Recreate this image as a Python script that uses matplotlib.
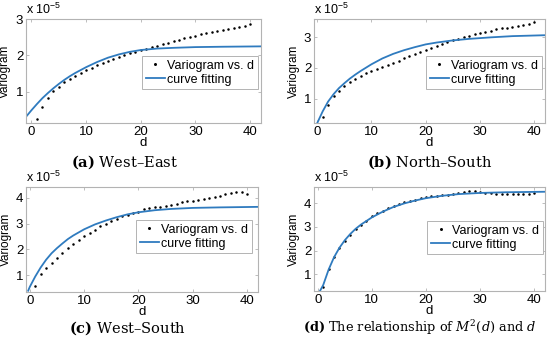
import matplotlib
matplotlib.use("Agg")
import matplotlib.pyplot as plt

plt.rcParams["font.family"] = ["Liberation Sans", "DejaVu Sans"]
plt.rcParams["mathtext.fontset"] = "custom"
plt.rcParams["mathtext.rm"] = "DejaVu Serif"
plt.rcParams["mathtext.it"] = "DejaVu Serif:italic"
plt.rcParams["mathtext.bf"] = "DejaVu Serif:bold"
plt.rcParams["mathtext.sf"] = "Liberation Sans"

# lag d (all panels) -- variogram values in units of 1e-5
d = list(range(1, 41))

gam_a = [0.26, 0.60, 0.84, 1.02, 1.15, 1.26, 1.35, 1.44, 1.53, 1.60,
         1.67, 1.74, 1.80, 1.86, 1.91, 1.96, 2.01, 2.06, 2.10, 2.15,
         2.19, 2.23, 2.27, 2.31, 2.35, 2.39, 2.43, 2.47, 2.51, 2.54,
         2.58, 2.61, 2.64, 2.67, 2.70, 2.73, 2.76, 2.79, 2.82, 2.86]
fit_a_d = [-1, 0, 1, 2, 3, 4, 5, 6, 7, 8, 10, 12, 14, 16, 18, 20, 23, 26, 30, 35, 42]
fit_a = [0.32, 0.50, 0.67, 0.83, 0.97, 1.10, 1.22, 1.33, 1.43, 1.52, 1.68,
         1.82, 1.94, 2.03, 2.10, 2.15, 2.19, 2.21, 2.23, 2.24, 2.25]

gam_b = [0.38, 0.78, 1.07, 1.26, 1.42, 1.55, 1.65, 1.74, 1.82, 1.89,
         1.96, 2.03, 2.10, 2.17, 2.24, 2.31, 2.38, 2.45, 2.52, 2.59,
         2.66, 2.73, 2.79, 2.85, 2.91, 2.96, 3.01, 3.06, 3.10, 3.14,
         3.18, 3.22, 3.26, 3.29, 3.32, 3.35, 3.38, 3.41, 3.45, 3.49]
fit_b_d = [0, 1, 2, 3, 4, 5, 6, 7, 8, 10, 12, 14, 16, 18, 20, 22, 25, 28, 32, 36, 42]
fit_b = [0.20, 0.58, 0.90, 1.14, 1.34, 1.50, 1.65, 1.78, 1.90, 2.12, 2.31,
         2.46, 2.58, 2.68, 2.77, 2.83, 2.90, 2.95, 3.00, 3.04, 3.07]

gam_c = [0.59, 1.03, 1.28, 1.48, 1.67, 1.86, 2.05, 2.20, 2.36, 2.52,
         2.64, 2.77, 2.90, 3.00, 3.10, 3.19, 3.28, 3.34, 3.41, 3.47,
         3.55, 3.60, 3.63, 3.66, 3.70, 3.74, 3.78, 3.82, 3.86, 3.89,
         3.93, 3.97, 4.01, 4.05, 4.08, 4.14, 4.19, 4.22, 4.21, 4.16]
fit_c_d = [-0.3, 0, 1, 2, 3, 4, 5, 6, 7, 8, 10, 12, 14, 16, 18, 20, 23, 26, 30, 35, 42]
fit_c = [0.40, 0.55, 0.95, 1.30, 1.60, 1.85, 2.05, 2.23, 2.40, 2.54, 2.78,
         2.97, 3.12, 3.25, 3.36, 3.44, 3.52, 3.57, 3.61, 3.63, 3.65]

gam_d = [0.48, 1.21, 1.75, 2.13, 2.41, 2.66, 2.90, 3.08, 3.25, 3.44,
         3.58, 3.69, 3.79, 3.90, 3.97, 4.04, 4.10, 4.15, 4.21, 4.25,
         4.28, 4.32, 4.35, 4.36, 4.38, 4.42, 4.49, 4.50, 4.50, 4.46,
         4.44, 4.43, 4.39, 4.37, 4.37, 4.37, 4.38, 4.39, 4.40, 4.41]
fit_d_d = [0.4, 1, 2, 3, 4, 5, 6, 7, 8, 10, 12, 14, 16, 18, 20, 23, 26, 30, 35, 42]
fit_d = [0.30, 0.55, 1.20, 1.72, 2.12, 2.44, 2.70, 2.92, 3.10, 3.40, 3.64,
         3.84, 3.99, 4.11, 4.21, 4.31, 4.38, 4.43, 4.46, 4.48]

captions = [r"$\mathbf{(a)}$ West–East",
            r"$\mathbf{(b)}$ North–South",
            r"$\mathbf{(c)}$ West–South",
            r"$\mathbf{(d)}$ The relationship of $M^2(d)$ and $d$"]
cap_sizes = [10.5, 10.5, 10.5, 9.3]

BLUE = "#2f7bbf"
GRID = "#b3b3b3"

# rect (px), xlim, ylim, yticks, legend anchor, caption centre (px)
panels = [
    ([26, 19, 235, 104], (-1, 42), (0.15, 3.0), [1, 2, 3], (0.987, 0.644), (124, 162), gam_a, fit_a_d, fit_a),
    ([314, 19, 231, 104], (-0.6, 42), (0.2, 3.6), [1, 2, 3], (0.987, 0.644), (430, 162), gam_b, fit_b_d, fit_b),
    ([26, 187, 232, 105], (-0.7, 42), (0.35, 4.42), [1, 2, 3, 4], (0.974, 0.686), (127, 328), gam_c, fit_c_d, fit_c),
    ([314, 187, 231, 104], (-0.7, 42), (0.3, 4.68), [1, 2, 3, 4], (0.992, 0.673), (420, 328), gam_d, fit_d_d, fit_d),
]

W, H = 550, 340
fig = plt.figure(figsize=(5.5, 3.4), dpi=100)

for (rect, xl, yl, yt, lg, cap_xy, gam, fx, fy), cap, cs in zip(panels, captions, cap_sizes):
    l, t, w, h = rect
    ax = fig.add_axes([l / W, 1 - (t + h) / H, w / W, h / H])
    ax.plot(d, gam, "o", ms=1.8, mew=0, color="black", label="Variogram vs. d")
    ax.plot(fx, fy, "-", lw=1.3, color=BLUE, label="curve fitting")
    ax.set_xlim(*xl); ax.set_ylim(*yl)
    ax.set_xticks([0, 10, 20, 30, 40]); ax.set_yticks(yt)
    ax.tick_params(direction="in", length=2.5, width=0.6, color=GRID, labelsize=9.5,
                   pad=2, top=True, right=True)
    for s in ax.spines.values():
        s.set_color(GRID); s.set_linewidth(0.8)
    ax.set_ylabel("Variogram", fontsize=8.5)
    ax.yaxis.set_label_coords(-0.062, 0.5)
    ax.set_xlabel("d", fontsize=9.5, va="center")
    ax.xaxis.set_label_coords(0.5, -0.19)
    ax.text(0.0, 1.015, r"x 10$^{\mathsf{-5}}$", transform=ax.transAxes,
            ha="left", va="bottom", fontsize=9)
    leg = ax.legend(loc="upper right", bbox_to_anchor=lg, fontsize=9, numpoints=1,
                    markerscale=1.2, handlelength=1.5, handletextpad=0.2, borderpad=0.3,
                    labelspacing=0.15, fancybox=False, framealpha=1, edgecolor=GRID,
                    borderaxespad=0)
    leg.get_frame().set_linewidth(0.7)
    fig.text(cap_xy[0] / W, 1 - cap_xy[1] / H, cap, ha="center", va="center",
             fontsize=cs, family="DejaVu Serif")

fig.savefig("out.png", dpi=100)
